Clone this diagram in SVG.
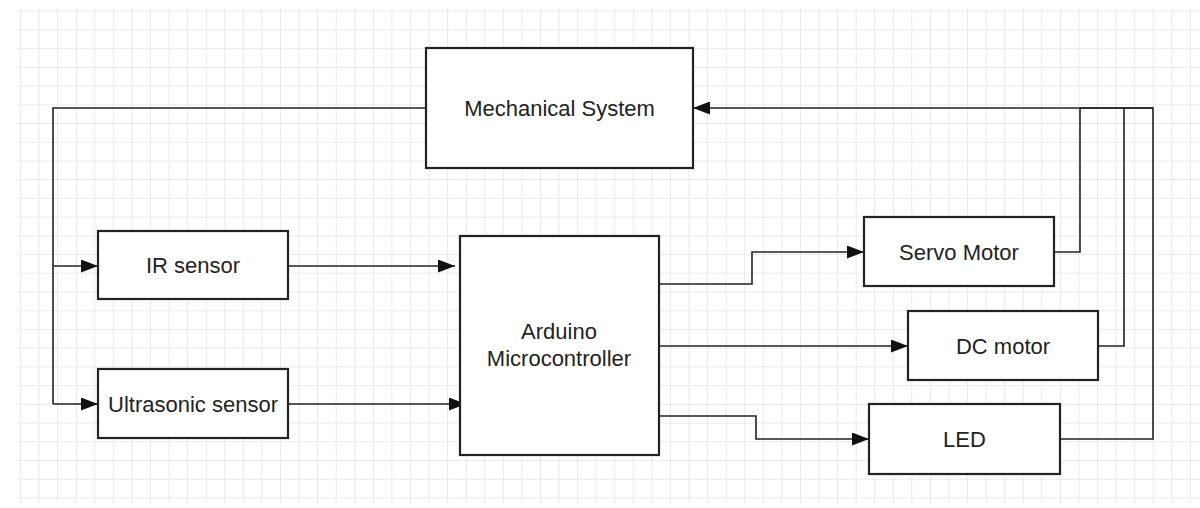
<svg xmlns="http://www.w3.org/2000/svg" width="1200" height="508" viewBox="0 0 1200 508">
  <defs>
    <pattern id="grid" patternUnits="userSpaceOnUse" x="20" y="10.7" width="18.57" height="18.72">
      <path d="M0,0 V18.72 M0,0 H18.57" fill="none" stroke="#e4e4e4" stroke-width="1.6"/>
    </pattern>
    <marker id="arr" viewBox="0 0 17 13" refX="17" refY="6.5" markerWidth="17" markerHeight="13" markerUnits="userSpaceOnUse" orient="auto">
      <path d="M0,0 L17,6.5 L0,13 Z" fill="#111"/>
    </marker>
  </defs>
  <style>
    .box { fill: #fff; stroke: #222; stroke-width: 2.2; }
    .lbl { font-family: "Liberation Sans", Arial, sans-serif; font-size: 22px; fill: #222; text-anchor: middle; }
    .wire { fill: none; stroke: #222; stroke-width: 1.6; }
    .arrow { marker-end: url(#arr); }
  </style>
  <rect width="1200" height="508" fill="#fff"/>
  <rect x="17" y="8" width="1183" height="495" fill="url(#grid)"/>

  <g id="connectors">
    <path class="wire" d="M426,108 H53 V404"/>
    <path class="wire arrow" d="M53,266 H98"/>
    <path class="wire arrow" d="M53,404 H98"/>
    <path class="wire arrow" d="M288,266 H455"/>
    <path class="wire arrow" d="M288,404 H466"/>
    <path class="wire arrow" d="M659,284 H752 V252 H864"/>
    <path class="wire arrow" d="M659,346 H908"/>
    <path class="wire arrow" d="M659,416 H756 V439 H869"/>
    <path class="wire" d="M1054,252 H1080 V108"/>
    <path class="wire" d="M1098,346 H1124 V108"/>
    <path class="wire" d="M1060,439 H1153 V108 H1080"/>
    <path class="wire arrow" d="M1153,108 H693"/>
  </g>

  <g id="mechanical">
    <rect class="box" x="426" y="48" width="267" height="120"/>
    <text class="lbl" x="559.5" y="116">Mechanical System</text>
  </g>
  <g id="ir">
    <rect class="box" x="98" y="231" width="190" height="68"/>
    <text class="lbl" x="193" y="273">IR sensor</text>
  </g>
  <g id="ultrasonic">
    <rect class="box" x="98" y="369" width="190" height="69"/>
    <text class="lbl" x="193" y="411.5">Ultrasonic sensor</text>
  </g>
  <g id="arduino">
    <rect class="box" x="460" y="236" width="199" height="219"/>
    <text class="lbl" x="559" y="339">Arduino</text>
    <text class="lbl" x="559" y="365.5">Microcontroller</text>
  </g>
  <g id="servo">
    <rect class="box" x="864" y="217" width="190" height="69"/>
    <text class="lbl" x="959" y="259.5">Servo Motor</text>
  </g>
  <g id="dc">
    <rect class="box" x="908" y="311" width="190" height="69"/>
    <text class="lbl" x="1003" y="353.5">DC motor</text>
  </g>
  <g id="led">
    <rect class="box" x="869" y="404" width="191" height="70"/>
    <text class="lbl" x="964.5" y="446.5">LED</text>
  </g>
</svg>
